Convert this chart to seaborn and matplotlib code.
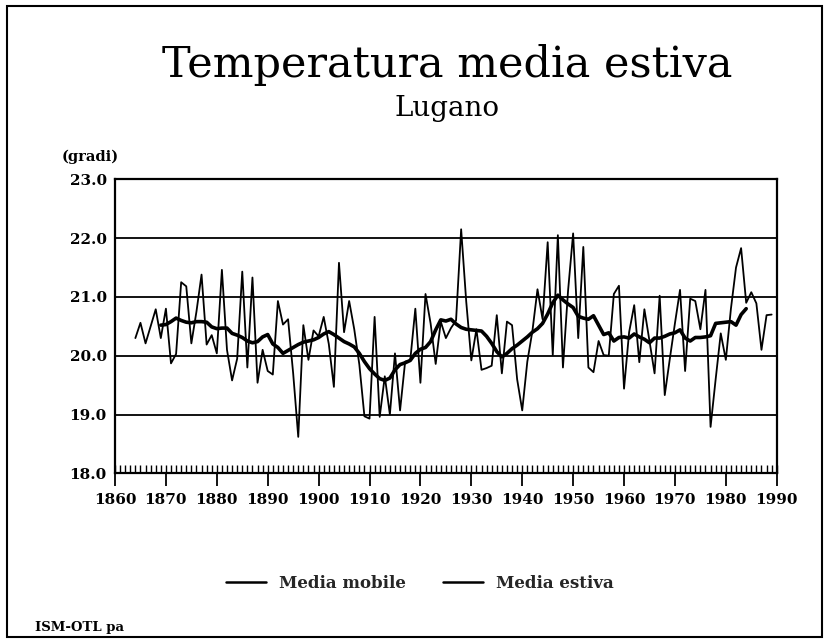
import numpy as np
import pandas as pd
import matplotlib
matplotlib.use("Agg")
import matplotlib.pyplot as plt
import seaborn as sns
from matplotlib.ticker import MultipleLocator, FormatStrFormatter
from matplotlib.patches import Rectangle

sns.set_theme(style="white")
plt.rcParams['font.family'] = ['DejaVu Serif']

# Media estiva (annual summer mean), 1864-1989
years_annual = np.arange(1864, 1990)
temp_annual = [
    20.30, 20.56, 20.21, 20.50, 20.79, 20.30, 20.80, 19.87, 20.03, 21.25,
    21.18, 20.21, 20.75, 21.38, 20.19, 20.35, 20.04, 21.46, 20.10, 19.58,
    19.95, 21.43, 19.80, 21.33, 19.54, 20.10, 19.74, 19.68, 20.93, 20.53,
    20.62, 19.70, 18.62, 20.52, 19.93, 20.43, 20.33, 20.66, 20.20, 19.47,
    21.58, 20.40, 20.93, 20.45, 19.85, 18.97, 18.93, 20.66, 18.96, 19.65,
    19.00, 20.04, 19.07, 19.90, 19.92, 20.80, 19.54, 21.05, 20.55, 19.86,
    20.58, 20.30, 20.47, 20.60, 22.15, 20.92, 19.92, 20.45, 19.76, 19.79,
    19.83, 20.69, 19.70, 20.58, 20.52, 19.60, 19.07, 19.90, 20.42, 21.13,
    20.62, 21.93, 20.01, 22.05, 19.80, 21.10, 22.08, 20.30, 21.85, 19.80,
    19.72, 20.25, 20.01, 20.00, 21.05, 21.19, 19.44, 20.40, 20.86, 19.89,
    20.79, 20.25, 19.70, 21.02, 19.33, 19.95, 20.55, 21.12, 19.74, 20.97,
    20.93, 20.45, 21.12, 18.79, 19.60, 20.38, 19.93, 20.80, 21.50, 21.83,
    20.90, 21.08, 20.89, 20.10, 20.69, 20.70,
]

# Media mobile (moving average), 1869-1984
years_mobile = np.arange(1869, 1985)
temp_mobile = [
    20.52, 20.53, 20.58, 20.64, 20.60, 20.57, 20.56, 20.58, 20.58, 20.57,
    20.49, 20.46, 20.47, 20.47, 20.38, 20.35, 20.31, 20.25, 20.22, 20.24,
    20.32, 20.36, 20.20, 20.14, 20.04, 20.09, 20.14, 20.19, 20.23, 20.25,
    20.27, 20.31, 20.37, 20.41, 20.36, 20.30, 20.24, 20.20, 20.15, 20.04,
    19.90, 19.78, 19.69, 19.61, 19.58, 19.62, 19.76, 19.85, 19.88, 19.92,
    20.04, 20.11, 20.14, 20.24, 20.44, 20.61, 20.59, 20.62, 20.54, 20.48,
    20.45, 20.44, 20.43, 20.42, 20.33, 20.21, 20.07, 19.98, 20.04, 20.12,
    20.18, 20.25, 20.32, 20.40, 20.46, 20.55, 20.71, 20.90, 21.03, 20.95,
    20.88, 20.82, 20.67, 20.64, 20.62, 20.68, 20.52, 20.36, 20.39, 20.25,
    20.31, 20.32, 20.30, 20.37, 20.32, 20.28, 20.22, 20.30, 20.30, 20.33,
    20.37, 20.39, 20.44, 20.30, 20.25, 20.31, 20.31, 20.32, 20.34, 20.55,
    20.56, 20.57, 20.58, 20.52, 20.70, 20.80,
]

x_ticks = list(range(1860, 1991, 10))
y_ticks = [18.0, 19.0, 20.0, 21.0, 22.0, 23.0]

df_annual = pd.DataFrame({"anno": years_annual, "temp": temp_annual})
df_mobile = pd.DataFrame({"anno": years_mobile, "temp": temp_mobile})

fig = plt.figure(figsize=(8.25, 6.43), dpi=100)
ax = fig.add_axes([0.1394, 0.2639, 0.8021, 0.4572])

sns.lineplot(data=df_annual, x="anno", y="temp", ax=ax, color="black",
             linewidth=1.3, label="Media estiva")
sns.lineplot(data=df_mobile, x="anno", y="temp", ax=ax, color="black",
             linewidth=2.6, label="Media mobile")

ax.set_xlim(1860, 1990)
ax.set_ylim(18, 23)
ax.set_xticks(x_ticks)
ax.set_yticks(y_ticks)
ax.xaxis.set_minor_locator(MultipleLocator(1))
ax.xaxis.remove_overlapping_locs = False
ax.yaxis.set_major_formatter(FormatStrFormatter("%.1f"))
ax.set_xlabel("")
ax.set_ylabel("")

ax.yaxis.grid(True, color="black", linewidth=1.3)
ax.xaxis.grid(False)
for s in ax.spines.values():
    s.set_color("black")
    s.set_linewidth(1.6)

ax.tick_params(axis="x", which="major", direction="out", length=9, width=1.3,
               color="black", pad=5, bottom=True)
ax.tick_params(axis="x", which="minor", direction="in", length=6, width=1.0,
               color="black", bottom=True)
ax.tick_params(axis="y", length=0, pad=6)
for lab in ax.get_xticklabels() + ax.get_yticklabels():
    lab.set_fontweight("bold")
    lab.set_fontsize(11)
    lab.set_color("black")

# legend below the plot, moving average first
handles, labels = ax.get_legend_handles_labels()
ax.get_legend().remove()
leg = fig.legend([handles[1], handles[0]], [labels[1], labels[0]],
                 loc="center", bbox_to_anchor=(420 / 825, 1 - 583 / 643),
                 ncol=2, frameon=False, handlelength=2.4, columnspacing=2.2,
                 prop={"weight": "bold", "size": 12})
for h in leg.get_lines():
    h.set_linewidth(1.8)

fig.text(447 / 825, 1 - 65 / 643, "Temperatura media estiva", ha="center",
         va="center", fontsize=31, color="black")
fig.text(447 / 825, 1 - 108 / 643, "Lugano", ha="center", va="center",
         fontsize=20, color="black")
fig.text(62 / 825, 1 - 157 / 643, "(gradi)", ha="left", va="center",
         fontsize=10.5, fontweight="bold", color="black")
fig.text(35 / 825, 1 - 627 / 643, "ISM-OTL pa", ha="left", va="center",
         fontsize=9.5, fontweight="bold", color="black")

fig.patches.append(Rectangle((7 / 825, 6 / 643), 815 / 825, 631 / 643,
                             transform=fig.transFigure, fill=False,
                             edgecolor="black", linewidth=1.5))

fig.savefig("out.png", dpi=100)
